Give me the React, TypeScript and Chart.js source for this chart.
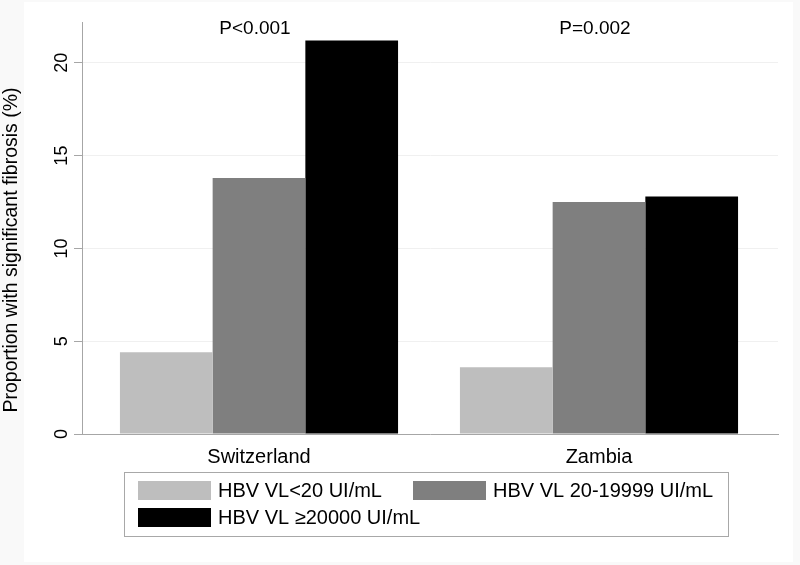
import React, { useEffect, useRef } from "react";
import { Chart, registerables } from "chart.js";

Chart.register(...registerables);

const categories = ["Switzerland", "Zambia"];
const pValues = ["P<0.001", "P=0.002"];
const seriesLabels = ["HBV VL<20 UI/mL", "HBV VL 20-19999 UI/mL", "HBV VL \u226520000 UI/mL"];
const lowVL = [4.4, 3.6];
const midVL = [13.8, 12.5];
const highVL = [21.2, 12.8];
const yTicks = [0, 5, 10, 15, 20];
const yTitle = "Proportion with significant fibrosis (%)";
const seriesColors = ["#bebebe", "#7f7f7f", "#000000"];

const FONT = "'Liberation Sans', Arial, Helvetica, sans-serif";

export default function App() {
  const ref = useRef<HTMLCanvasElement | null>(null);

  useEffect(() => {
    if (!ref.current) return;
    const series = [lowVL, midVL, highVL];
    const datasets = series.map((vals, si) => ({
      label: seriesLabels[si],
      data: vals.map((v, i) => ({ x: i, y: v })),
      backgroundColor: seriesColors[si],
      borderWidth: 0,
      categoryPercentage: 0.818,
      barPercentage: 1,
    }));

    const bgPlugin = {
      id: "bg",
      beforeDraw(chart: any) {
        const ctx = chart.ctx;
        ctx.save();
        ctx.fillStyle = "#f9f9f9";
        ctx.fillRect(0, 0, chart.width, chart.height);
        ctx.fillStyle = "#ffffff";
        ctx.fillRect(24, 2, 769, 560);
        ctx.restore();
      },
    };

    const annotPlugin = {
      id: "annot",
      afterDraw(chart: any) {
        const ctx = chart.ctx;
        const xs = chart.scales.x;
        ctx.save();
        ctx.font = `19px ${FONT}`;
        ctx.fillStyle = "#000";
        ctx.textAlign = "center";
        ctx.textBaseline = "alphabetic";
        pValues.forEach((p, i) => {
          ctx.fillText(p, xs.getPixelForValue(i) - 4, 33.5);
        });
        // y axis title
        ctx.translate(12, 250);
        ctx.rotate(-Math.PI / 2);
        ctx.textBaseline = "middle";
        ctx.font = `19.5px ${FONT}`;
        ctx.fillText(yTitle, 0, 0);
        ctx.restore();
      },
    };

    const legendPlugin = {
      id: "customLegend",
      afterDraw(chart: any) {
        const ctx = chart.ctx;
        ctx.save();
        ctx.strokeStyle = "#a8a8a8";
        ctx.lineWidth = 1;
        ctx.strokeRect(124.5, 472.5, 604, 64);
        const cols = [138, 413];
        const rows = [481, 508];
        ctx.font = `20px ${FONT}`;
        ctx.textAlign = "left";
        ctx.textBaseline = "middle";
        chart.data.datasets.forEach((ds: any, i: number) => {
          const col = i % 2;
          const row = Math.floor(i / 2);
          const x = cols[col];
          const y = rows[row];
          ctx.fillStyle = ds.backgroundColor;
          ctx.fillRect(x, y, 73, 19);
          ctx.fillStyle = "#000";
          ctx.fillText(ds.label, x + 80, y + 10.5);
        });
        ctx.restore();
      },
    };

    const chart = new Chart(ref.current, {
      type: "bar",
      data: { datasets },
      options: {
        animation: false,
        responsive: true,
        maintainAspectRatio: false,
        layout: { padding: { left: 0, right: 22, top: 22, bottom: 85 } },
        plugins: {
          legend: { display: false },
          tooltip: { enabled: false },
        },
        scales: {
          x: {
            type: "linear",
            offset: false,
            min: -0.5206,
            max: 1.5265,
            afterBuildTicks(scale: any) {
              scale.ticks = categories.map((_, i) => ({ value: i }));
            },
            grid: { display: false, drawTicks: false, offset: false },
            border: { display: true, color: "#a6a6a6", width: 1 },
            ticks: {
              padding: 11,
              autoSkip: false,
              maxRotation: 0,
              color: "#000",
              font: { family: FONT, size: 20 },
              callback: (v: any) => categories[v as number] ?? "",
            },
          },
          y: {
            type: "linear",
            min: 0,
            max: 22.2,
            afterBuildTicks(scale: any) {
              scale.ticks = yTicks.map((v) => ({ value: v }));
            },
            afterFit(scale: any) {
              scale.width = 82;
            },
            grid: {
              color: "#f0f0f0",
              tickColor: "#a6a6a6",
              tickLength: 8,
              drawTicks: true,
            },
            border: { display: true, color: "#a6a6a6", width: 1 },
            ticks: {
              minRotation: 90,
              maxRotation: 90,
              crossAlign: "center",
              padding: 2,
              color: "#000",
              font: { family: FONT, size: 18 },
            },
            title: { display: false },
          },
        },
      },
      plugins: [bgPlugin, annotPlugin, legendPlugin],
    } as any);

    return () => chart.destroy();
  }, []);

  return (
    <div style={{ position: "absolute", left: 0, top: 0, width: 800, height: 565 }}>
      <canvas ref={ref} />
    </div>
  );
}
